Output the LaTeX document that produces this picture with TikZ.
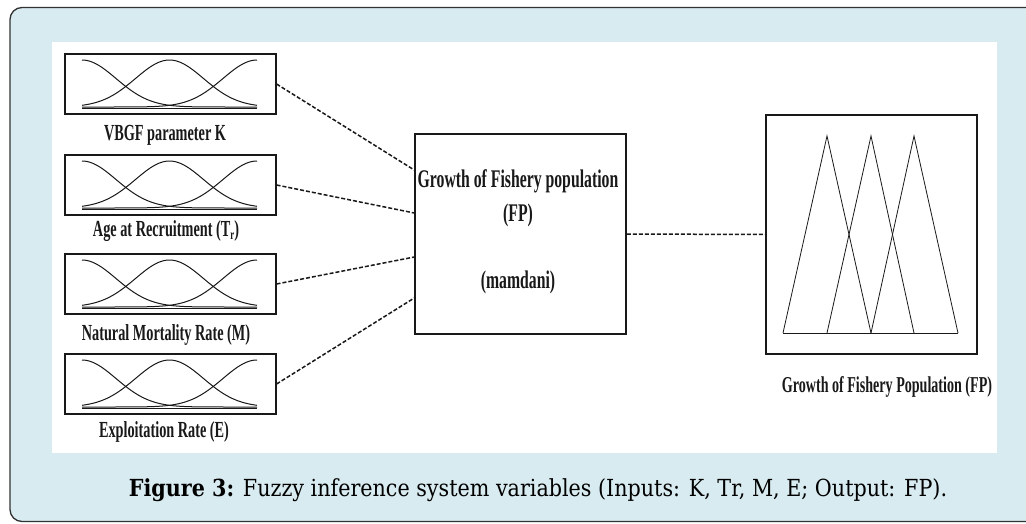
\documentclass[tikz,border=0pt]{standalone}
\usepackage{fontspec}
\newfontfamily\condtimes[FakeStretch=0.62]{Liberation Serif}
\newfontfamily\capserif[FakeStretch=0.88]{DejaVu Serif}
\definecolor{panelblue}{RGB}{216,235,240}
\definecolor{ink}{RGB}{25,25,25}
\tikzset{
 panel/.style={draw=black!80, line width=1.3pt, rounded corners=12pt, fill=panelblue},
 mfbox/.style={draw=ink, line width=1.1pt, minimum width=211pt, minimum height=60pt, inner sep=0pt},
 fisbox/.style={draw=ink, line width=1.5pt, minimum width=211pt, minimum height=200pt, inner sep=0pt},
 outbox/.style={draw=ink, line width=1.1pt, minimum width=211pt, minimum height=239pt, inner sep=0pt},
 mfline/.style={draw=ink, line width=1pt},
 triline/.style={draw=ink, line width=0.8pt},
 link/.style={draw=ink, line width=1.5pt, dash pattern=on 4pt off 2pt},
 lbl/.style={font=\condtimes\bfseries\fontsize{23}{23}\selectfont, text=ink, inner sep=0pt},
 outlbl/.style={font=\condtimes\bfseries\fontsize{22.7}{22.7}\selectfont, text=ink, inner sep=0pt},
 fistext/.style={font=\condtimes\bfseries\fontsize{25.4}{25.4}\selectfont, text=ink, inner sep=0pt},
 captext/.style={font=\capserif\fontsize{23.5}{23.5}\selectfont, text=black, inner sep=0pt},
}
\newcommand{\subr}{\raisebox{-0.25ex}{\fontsize{14}{14}\selectfont r}}
\begin{document}
\begin{tikzpicture}[x=1pt,y=-1pt]
\useasboundingbox (0,0) rectangle (1026,523);
\clip (0,0) rectangle (1026,523);
\fill[white] (0,0) rectangle (1026,523);
\draw[panel] (10,7.5) rectangle (1070,521.5);
\fill[white] (52,42) rectangle (997,453);

% input membership boxes
\foreach \i/\t in {1/54,2/155,3/254,4/354}{
  \node[mfbox] (in\i) at (170.5,\t+30) {};
  \pgfmathsetmacro\base{\t+53}
  \draw[mfline] plot[domain=82:257,samples=70,smooth] (\x,{\base-47*exp(-0.5*((\x-82)/34)*((\x-82)/34))});
  \draw[mfline] plot[domain=82:257,samples=70,smooth] (\x,{\base-47*exp(-0.5*((\x-169.5)/34)*((\x-169.5)/34))});
  \draw[mfline] plot[domain=82:257,samples=70,smooth] (\x,{\base-47*exp(-0.5*((\x-257)/34)*((\x-257)/34))});
  \draw[mfline] (82,\base+1.5) -- (257,\base+1.5);
}
\node[lbl] (lbl1) at (165,135) {VBGF parameter K};
\node[lbl] (lbl2) at (166,231) {Age at Recruitment (T\subr)};
\node[lbl] (lbl3) at (166,335) {Natural Mortality Rate (M)};
\node[lbl] (lbl4) at (164,432) {Exploitation Rate (E)};

% central FIS box
\node[fisbox] (fis) at (520.5,234) {};
\node[fistext] (fisname) at (518,181) {Growth of Fishery population};
\node[fistext] (fisfp) at (518,215) {(FP)};
\node[fistext] (fismeth) at (518,282) {(mamdani)};

\draw[link] (in1.east) -- ([yshift=64pt]fis.west);
\draw[link] (in2.east) -- ([yshift=21pt]fis.west);
\draw[link] (in3.east) -- ([yshift=-23pt]fis.west);
\draw[link] (in4.east) -- ([yshift=-64pt]fis.west);

% output box
\node[outbox] (out) at (871.5,234.5) {};
\draw[triline] (783,333) -- (827,136) -- (871,333);
\draw[triline] (827,333) -- (871,136) -- (914,333);
\draw[triline] (871,333) -- (914,136) -- (958,333);
\draw[mfline] (783,333) -- (958,333);
\draw[link] (fis.east) -- (out.west);
\node[outlbl] (outlbl) at (887,387) {Growth of Fishery Population (FP)};

% caption
\node[captext] (cap) at (538,490) {\textbf{Figure 3:} Fuzzy inference system variables (Inputs: K, Tr, M, E; Output: FP).};
\end{tikzpicture}
\end{document}
